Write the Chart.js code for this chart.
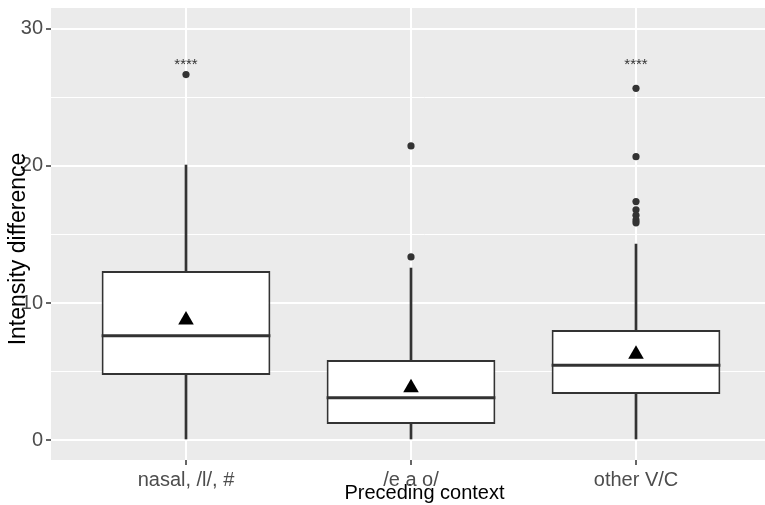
<!DOCTYPE html>
<html>
<head>
<meta charset="utf-8">
<script src="https://cdn.jsdelivr.net/npm/chart.js@4.4.1/dist/chart.umd.min.js"></script>
<style>
  html, body { margin: 0; padding: 0; background: #ffffff; overflow: hidden; }
  #wrap { width: 765px; height: 505px; overflow: hidden; }
</style>
</head>
<body>
<div id="wrap"><canvas id="boxChart" width="798" height="505"></canvas></div>
<script>
// Box plot data
const categories = ['nasal, /l/, #', '/e a o/', 'other V/C'];
const lowerWhisker = [0, 0, 0];
const q1 = [4.74, 1.17, 3.36];
const median = [7.6, 3.09, 5.45];
const q3 = [12.33, 5.84, 8.03];
const upperWhisker = [20.07, 12.55, 14.3];
const means = [8.76, 3.82, 6.25];
const outliers = [
    [26.67],
    [21.46, 13.36],
    [25.67, 20.68, 17.4, 16.8, 16.4, 16.05, 15.85]
];
const sigLabels = ['****', '', '****'];
const sigLevel = 27.4;
const yTicks = [0, 5, 10, 15, 20, 25, 30];

Chart.defaults.font.family = '"Liberation Sans", Arial, sans-serif';

// Panel background, median lines, significance labels, y title
const boxExtras = {
    id: 'boxExtras',
    beforeDraw(chart) {
        const a = chart.chartArea;
        const ctx = chart.ctx;
        ctx.save();
        ctx.fillStyle = '#EBEBEB';
        ctx.fillRect(a.left, a.top, a.right - a.left, a.bottom - a.top);
        ctx.restore();
    },
    afterDatasetsDraw(chart) {
        const ctx = chart.ctx;
        const yScale = chart.scales.y;
        const xScale = chart.scales.x;
        const boxMeta = chart.getDatasetMeta(2);
        ctx.save();
        ctx.strokeStyle = '#333333';
        ctx.lineWidth = 3;
        boxMeta.data.forEach((bar, i) => {
            const y = yScale.getPixelForValue(median[i]);
            ctx.beginPath();
            ctx.moveTo(bar.x - bar.width / 2, y);
            ctx.lineTo(bar.x + bar.width / 2, y);
            ctx.stroke();
        });
        // significance stars
        ctx.fillStyle = '#333333';
        ctx.font = '15px "Liberation Sans", Arial, sans-serif';
        ctx.textAlign = 'center';
        ctx.textBaseline = 'middle';
        sigLabels.forEach((lab, i) => {
            if (!lab) return;
            ctx.fillText(lab, xScale.getPixelForValue(i + 1), yScale.getPixelForValue(sigLevel));
        });
        ctx.restore();
    },
    afterDraw(chart) {
        // y axis title, sitting a little below the panel centre as in the figure
        const a = chart.chartArea;
        const ctx = chart.ctx;
        ctx.save();
        ctx.translate(25, (a.top + a.bottom) / 2 + 15);
        ctx.rotate(-Math.PI / 2);
        ctx.fillStyle = '#000000';
        ctx.font = '23px "Liberation Sans", Arial, sans-serif';
        ctx.textAlign = 'center';
        ctx.textBaseline = 'alphabetic';
        ctx.fillText('Intensity difference', 0, 0);
        ctx.restore();
    }
};

const ctx = document.getElementById('boxChart').getContext('2d');

const outlierPoints = [];
outliers.forEach((list, i) => {
    list.forEach(v => outlierPoints.push({ x: i + 1, y: v }));
});

const boxChart = new Chart(ctx, {
    type: 'bar',
    data: {
        datasets: [
            {
                type: 'line',
                label: 'Mean',
                data: means.map((m, i) => ({ x: i + 1, y: m })),
                showLine: false,
                pointStyle: 'triangle',
                pointRadius: 9,
                pointBackgroundColor: '#000000',
                pointBorderColor: '#000000',
                pointBorderWidth: 0,
                order: 0
            },
            {
                type: 'line',
                label: 'Outliers',
                data: outlierPoints,
                showLine: false,
                pointRadius: 3.6,
                pointBackgroundColor: '#333333',
                pointBorderColor: '#333333',
                pointBorderWidth: 0,
                order: 1
            },
            {
                label: 'Box',
                data: q1.map((v, i) => ({ x: i + 1, y: [v, q3[i]] })),
                backgroundColor: '#ffffff',
                borderColor: '#333333',
                borderWidth: 2,
                borderSkipped: false,
                grouped: false,
                categoryPercentage: 1,
                barPercentage: 0.75,
                order: 2
            },
            {
                label: 'Upper whisker',
                data: q3.map((v, i) => ({ x: i + 1, y: [v, upperWhisker[i]] })),
                backgroundColor: '#333333',
                borderWidth: 0,
                grouped: false,
                barThickness: 2,
                order: 3
            },
            {
                label: 'Lower whisker',
                data: q1.map((v, i) => ({ x: i + 1, y: [lowerWhisker[i], v] })),
                backgroundColor: '#333333',
                borderWidth: 0,
                grouped: false,
                barThickness: 2,
                order: 3
            }
        ]
    },
    options: {
        responsive: false,
        animation: false,
        layout: {
            autoPadding: false,
            padding: { top: 8, left: 0, right: 0, bottom: 0 }
        },
        plugins: {
            legend: { display: false },
            tooltip: { enabled: false }
        },
        scales: {
            x: {
                type: 'linear',
                min: 0.4,
                max: 3.72,
                offset: false,
                afterBuildTicks: function(scale) {
                    scale.ticks = categories.map((c, i) => ({ value: i + 1 }));
                },
                afterFit: function(scale) {
                    scale.height = 45;
                    scale.paddingLeft = 0;
                    scale.paddingRight = 0;
                    scale.paddingTop = 0;
                    scale.paddingBottom = 0;
                },
                ticks: {
                    autoSkip: false,
                    maxRotation: 0,
                    padding: 3,
                    color: '#4D4D4D',
                    font: { size: 20 },
                    callback: function(value) {
                        return categories[value - 1];
                    }
                },
                grid: {
                    offset: false,
                    color: '#ffffff',
                    lineWidth: 2,
                    tickLength: 5,
                    tickColor: '#333333',
                    tickWidth: 1.5
                },
                border: { display: false },
                title: {
                    display: true,
                    text: 'Preceding context',
                    color: '#000000',
                    font: { size: 20 },
                    padding: { top: 0, bottom: 0 }
                }
            },
            y: {
                min: -1.46,
                max: 31.53,
                afterBuildTicks: function(scale) {
                    scale.ticks = yTicks.map(v => ({ value: v }));
                },
                afterFit: function(scale) {
                    scale.width = 51;
                    scale.paddingLeft = 0;
                    scale.paddingRight = 0;
                    scale.paddingTop = 0;
                    scale.paddingBottom = 0;
                },
                ticks: {
                    autoSkip: false,
                    padding: 3,
                    color: '#4D4D4D',
                    font: { size: 20 },
                    callback: function(value) {
                        return value % 10 === 0 ? value : '';
                    }
                },
                grid: {
                    color: '#ffffff',
                    lineWidth: function(c) {
                        return c.tick && c.tick.value % 10 === 0 ? 2 : 1;
                    },
                    tickLength: 5,
                    tickColor: function(c) {
                        return c.tick && c.tick.value % 10 === 0 ? '#333333' : 'rgba(0,0,0,0)';
                    },
                    tickWidth: 1.5
                },
                border: { display: false },
                title: { display: false }
            }
        }
    },
    plugins: [boxExtras]
});
</script>
</body>
</html>
